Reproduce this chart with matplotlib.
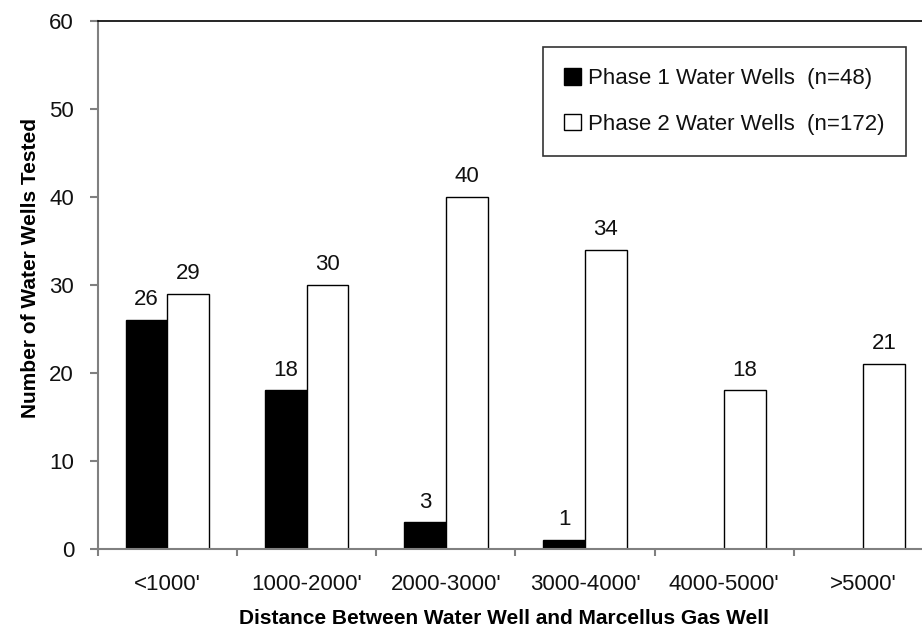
import numpy as np
import matplotlib
matplotlib.use("Agg")
from matplotlib import pyplot as plt

categories = ["<1000'", "1000-2000'", "2000-3000'", "3000-4000'", "4000-5000'", ">5000'"]
phase1 = [26, 18, 3, 1, 0, 0]
phase2 = [29, 30, 40, 34, 18, 21]
phase1_label = "Phase 1 Water Wells  (n=48)"
phase2_label = "Phase 2 Water Wells  (n=172)"

plt.rcParams['font.family'] = ['Liberation Sans', 'DejaVu Sans']

fig = plt.figure(figsize=(9.22, 6.36), dpi=100)
# axes runs a little past the right edge, as in the original crop
ax = fig.add_axes([0.106, 0.137, 0.906, 0.8305])

x = np.arange(len(categories))
w = 0.30
b1 = ax.bar(x - w / 2, phase1, w, color="black", edgecolor="black", linewidth=1.0,
            label=phase1_label)
b2 = ax.bar(x + w / 2, phase2, w, color="white", edgecolor="black", linewidth=1.0,
            label=phase2_label)

# value labels (skip empty phase 1 bins)
for bars, vals in ((b1, phase1), (b2, phase2)):
    for rect, v in zip(bars, vals):
        if v > 0:
            ax.annotate(str(v), (rect.get_x() + rect.get_width() / 2, v),
                        xytext=(0, 7), textcoords="offset points",
                        ha="center", va="bottom", fontsize=16, color="#111111")

ax.set_xlim(-0.5, len(categories) - 0.5)
ax.set_ylim(0, 60)
ax.set_yticks(range(0, 61, 10))
ax.set_xticks(x)
ax.set_xticklabels(categories, fontsize=16, color="#111111")
ax.set_xticks(np.arange(-0.5, len(categories), 1.0), minor=True)
ax.tick_params(axis="x", which="major", length=0, pad=18)
ax.tick_params(axis="x", which="minor", length=5, color="#808080", width=1.5)
ax.tick_params(axis="y", length=6, color="#808080", width=1.5, labelsize=16,
               labelcolor="#111111", pad=11)

for s in ("left", "bottom"):
    ax.spines[s].set_color("#808080")
    ax.spines[s].set_linewidth(1.5)
for s in ("top", "right"):
    ax.spines[s].set_color("black")
    ax.spines[s].set_linewidth(1.2)

ax.set_ylabel("Number of Water Wells Tested", fontsize=15, fontweight="bold", labelpad=9)
ax.set_xlabel("Distance Between Water Well and Marcellus Gas Well", fontsize=15,
              fontweight="bold", labelpad=10)
# titles sit centred on the visible plot area, not the full axes
ax.yaxis.set_label_coords(-0.069, 0.532)
ax.xaxis.label.set_x(0.486)

leg = ax.legend(loc="upper right", bbox_to_anchor=(0.9677, 0.950), fontsize=16,
                frameon=True, fancybox=False, edgecolor="black", handlelength=0.75,
                handleheight=0.75, handletextpad=0.35, labelspacing=1.1,
                borderpad=0.95, borderaxespad=0)
leg.get_frame().set_linewidth(1.2)
for t in leg.get_texts():
    t.set_color("#111111")

fig.savefig("out.png", dpi=100)
